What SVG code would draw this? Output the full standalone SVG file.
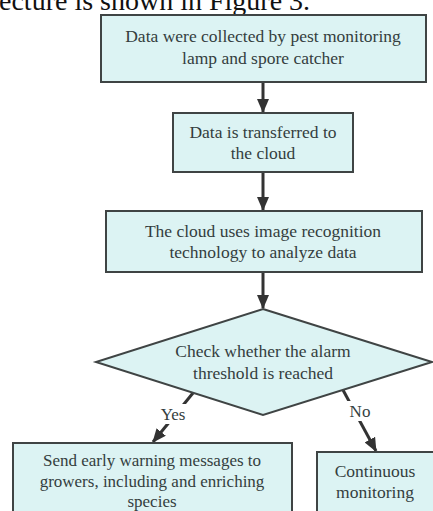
<svg xmlns="http://www.w3.org/2000/svg" width="433" height="511" viewBox="0 0 433 511">
<style>
.box{fill:#dcf3f3;stroke:#3f4444;stroke-width:2}
.t{font-family:"Liberation Serif","Times New Roman",serif;font-size:17.5px;fill:#343e3e;text-anchor:middle}
.s{font-size:17px}
.lbl{font-family:"Liberation Serif","Times New Roman",serif;font-size:17px;fill:#343e3e;text-anchor:middle}
.c{stroke:#333;stroke-width:3;fill:none}
</style>
<defs>
<marker id="ah" markerWidth="14" markerHeight="12" viewBox="0 0 14 12" refX="13" refY="6" orient="auto" markerUnits="userSpaceOnUse">
<path d="M0,0 L14,6 L0,12 Z" fill="#333"/>
</marker>
</defs>
<rect width="433" height="511" fill="#fff"/>
<text x="-1" y="10" font-family="Liberation Serif,serif" font-size="28" fill="#111">ecture is shown in Figure 3.</text>
<g id="connectors">
<line class="c" x1="263" y1="83" x2="263" y2="112" marker-end="url(#ah)"/>
<line class="c" x1="263" y1="173" x2="263" y2="210" marker-end="url(#ah)"/>
<line class="c" x1="263" y1="272" x2="263" y2="308" marker-end="url(#ah)"/>
<line class="c" x1="193" y1="393" x2="153" y2="442" marker-end="url(#ah)"/>
<line class="c" x1="343" y1="390" x2="376" y2="451" marker-end="url(#ah)"/>
<rect x="158" y="404" width="30" height="20" fill="#fff"/>
<text class="lbl" x="173" y="420">Yes</text>
<rect x="347" y="401" width="26" height="20" fill="#fff"/>
<text class="lbl" x="360" y="417">No</text>
</g>
<g id="n1">
<rect class="box" x="101" y="15" width="325" height="67"/>
<text class="t" x="263" y="42">Data were collected by pest monitoring</text>
<text class="t" x="263" y="64">lamp and spore catcher</text>
</g>
<g id="n2">
<rect class="box" x="173" y="113" width="180" height="59"/>
<text class="t" x="263" y="138">Data is transferred to</text>
<text class="t" x="263" y="159">the cloud</text>
</g>
<g id="n3">
<rect class="box" x="106" y="211" width="316" height="61"/>
<text class="t" x="263" y="237">The cloud uses image recognition</text>
<text class="t" x="263" y="258">technology to analyze data</text>
</g>
<g id="n4">
<polygon class="box" points="263,309 432,362 263,415 96,362"/>
<text class="t" x="263" y="357">Check whether the alarm</text>
<text class="t" x="263" y="379">threshold is reached</text>
</g>
<g id="n5">
<rect class="box" x="13" y="443" width="279" height="80"/>
<text class="t s" x="152" y="466">Send early warning messages to</text>
<text class="t s" x="152" y="487">growers, including and enriching</text>
<text class="t s" x="152" y="507">species</text>
</g>
<g id="n6">
<rect class="box" x="317" y="452" width="130" height="70"/>
<text class="t" x="375" y="477">Continuous</text>
<text class="t" x="375" y="498">monitoring</text>
</g>
</svg>
